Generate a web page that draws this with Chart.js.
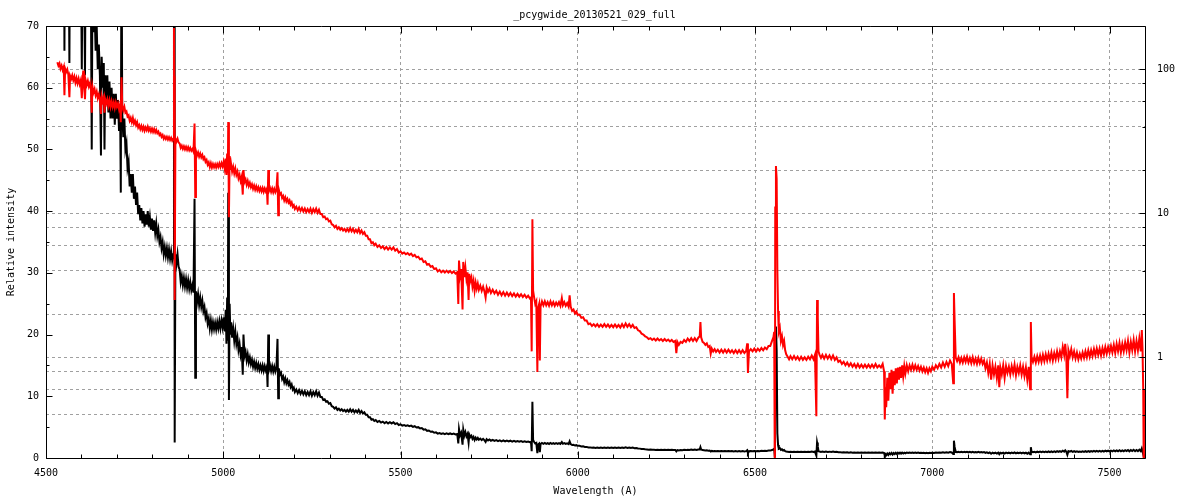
<!DOCTYPE html>
<html>
<head>
<meta charset="utf-8">
<script src="https://cdn.jsdelivr.net/npm/chart.js@4.4.1/dist/chart.umd.min.js"></script>
<style>
  html, body { margin: 0; padding: 0; background: #ffffff; }
  #wrap { width: 1200px; height: 500px; }
</style>
</head>
<body>
<div id="wrap"><canvas id="c" width="1200" height="500"></canvas></div>
<script>
// ---- data ----
const chartTitle = '_pcygwide_20130521_029_full';
const xTitle = 'Wavelength (A)';
const yTitle = 'Relative intensity';

const wavelength = [
4532,4535,4538,4541,4544,4547,4550,4552,4554,4557,
4560,4563,4566,4568,4571,4574,4577,4580,4583,4586,
4589,4592,4595,4598,4601,4603,4605,4607,4610,4612,
4615,4618,4621,4624,4627,4629,4631,4634,4637,4640,
4643,4646,4649,4652,4655,4657,4660,4663,4665,4667,
4670,4673,4676,4679,4682,4685,4688,4691,4694,4697,
4700,4703,4706,4709,4711,4713,4715,4718,4721,4724,
4727,4730,4733,4736,4739,4742,4745,4748,4751,4754,
4757,4760,4763,4766,4769,4772,4775,4778,4781,4784,
4787,4790,4793,4796,4799,4802,4805,4808,4811,4814,
4817,4820,4823,4826,4829,4832,4835,4838,4841,4844,
4847,4850,4853,4856,4859,4861,4862,4863,4865,4868,
4871,4874,4877,4880,4883,4886,4889,4892,4895,4898,
4901,4904,4907,4910,4913,4916,4919,4921,4923,4926,
4929,4932,4935,4938,4941,4944,4947,4950,4953,4956,
4959,4962,4965,4968,4971,4974,4977,4980,4983,4986,
4989,4992,4995,4998,5001,5004,5007,5009,5011,5013,
5014,5016,5018,5020,5022,5025,5028,5031,5034,5037,
5040,5043,5046,5049,5052,5055,5057,5060,5063,5066,
5069,5072,5075,5078,5081,5084,5087,5090,5093,5096,
5099,5102,5105,5108,5111,5114,5117,5120,5123,5125,
5127,5129,5132,5135,5138,5141,5144,5147,5150,5153,
5155,5157,5160,5163,5166,5169,5172,5175,5178,5181,
5184,5187,5190,5193,5196,5199,5202,5206,5210,5214,
5218,5222,5226,5230,5234,5238,5242,5246,5250,5254,
5258,5262,5266,5270,5274,5278,5282,5286,5290,5294,
5298,5302,5306,5310,5314,5318,5322,5326,5330,5334,
5338,5342,5346,5350,5354,5358,5362,5366,5370,5374,
5378,5382,5386,5390,5394,5398,5402,5406,5410,5414,
5418,5422,5426,5430,5435,5440,5445,5450,5455,5460,
5465,5470,5475,5480,5485,5490,5495,5500,5505,5510,
5515,5520,5525,5530,5535,5540,5545,5550,5555,5560,
5565,5570,5575,5580,5585,5590,5595,5600,5605,5610,
5615,5620,5625,5630,5635,5640,5645,5650,5655,5660,
5663,5665,5668,5671,5675,5677,5680,5683,5686,5689,
5692,5694,5697,5700,5703,5706,5709,5712,5715,5718,
5721,5725,5729,5733,5737,5740,5743,5747,5751,5755,
5760,5765,5770,5775,5780,5785,5790,5795,5800,5805,
5810,5815,5820,5825,5830,5835,5840,5845,5850,5855,
5860,5865,5868,5870,5872,5874,5877,5880,5883,5886,
5888,5891,5893,5895,5899,5903,5907,5911,5915,5919,
5923,5927,5931,5935,5939,5943,5947,5951,5955,5958,
5962,5966,5970,5974,5977,5980,5984,5988,5992,5996,
6000,6005,6010,6015,6020,6025,6030,6035,6040,6045,
6050,6055,6060,6065,6070,6075,6080,6085,6090,6095,
6100,6105,6110,6115,6120,6125,6130,6135,6140,6145,
6150,6155,6160,6165,6170,6175,6180,6185,6190,6195,
6200,6205,6210,6215,6220,6225,6230,6235,6240,6245,
6250,6255,6260,6265,6270,6275,6278,6281,6285,6290,
6295,6300,6305,6310,6315,6320,6325,6330,6335,6340,
6344,6346,6348,6352,6356,6360,6364,6368,6372,6375,
6378,6382,6386,6390,6395,6400,6405,6410,6415,6420,
6425,6430,6435,6440,6445,6450,6455,6460,6465,6470,
6475,6478,6480,6483,6488,6493,6498,6503,6508,6513,
6518,6523,6528,6533,6538,6543,6548,6552,6554,6556,
6557,6559,6561,6563,6565,6567,6570,6573,6576,6579,
6582,6585,6588,6592,6596,6600,6605,6610,6615,6620,
6625,6630,6635,6640,6645,6650,6655,6660,6665,6669,
6673,6675,6677,6679,6682,6686,6690,6695,6700,6705,
6710,6715,6720,6725,6730,6735,6740,6745,6750,6755,
6760,6765,6770,6775,6780,6785,6790,6795,6800,6805,
6810,6815,6820,6825,6830,6835,6840,6845,6850,6855,
6860,6864,6866,6868,6870,6873,6876,6879,6882,6885,
6888,6891,6894,6897,6900,6903,6906,6909,6912,6915,
6918,6921,6924,6928,6932,6936,6940,6944,6948,6952,
6956,6960,6964,6968,6972,6976,6980,6984,6988,6992,
6996,7000,7005,7010,7015,7020,7025,7030,7035,7040,
7045,7050,7055,7059,7061,7063,7066,7070,7074,7078,
7082,7086,7090,7094,7098,7102,7106,7110,7114,7118,
7122,7126,7130,7134,7138,7142,7146,7150,7154,7158,
7162,7166,7170,7174,7178,7182,7186,7189,7192,7196,
7200,7204,7208,7212,7216,7220,7224,7228,7232,7236,
7240,7244,7248,7252,7256,7260,7264,7268,7272,7276,
7278,7280,7284,7288,7292,7296,7300,7304,7308,7312,
7316,7320,7324,7328,7332,7336,7340,7344,7348,7352,
7356,7360,7364,7368,7372,7375,7378,7381,7384,7388,
7392,7396,7400,7404,7408,7412,7416,7420,7424,7428,
7432,7436,7440,7444,7448,7452,7456,7460,7464,7468,
7472,7476,7480,7484,7488,7492,7496,7500,7504,7508,
7512,7516,7520,7524,7528,7532,7536,7540,7544,7548,
7552,7556,7560,7564,7568,7572,7576,7580,7584,7588,
7591,7593,7595,7597
];

const intensity = [
112,106,110,101,106,99,104,66,101,96,
100,92,64,90,86,91,84,89,81,87,
80,86,79,84,63,82,98,80,62,84,
78,83,76,80,72,50,76,69,73,66,
70,63,67,62,49,65,60,64,50,62,
58,62,56,61,55,60,55,59,54,59,
55,58,53,57,43,88,56,52,55,50,
51,47,48,44,46,43,46,42,44,41,
43,39.5,41,38.5,40.5,38,40,37.5,39.5,37.8,
40,37.5,39,37,38.8,36.8,38.5,36.5,38,36,
37,35,35.8,34,35,33,34.2,32.8,34,32.5,
33.8,32.3,33.5,32,33,194,90,2.5,33,31.5,
33,31,30.5,28.5,29.5,28,29.2,27.8,29,27.6,
28.8,27.4,28.5,27.2,28,26.8,42,13,27,25.2,
26.5,24.8,26,24.5,25.5,23.8,24.5,22.8,23.5,21.8,
22.6,21,22.3,20.8,22,20.9,21.9,20.8,22,21,
22.2,21,22.3,21.2,22.8,20.5,24,18.5,26,19,
43,9.4,25,20,22,19.5,21,19,20.5,18.5,
19.5,17.5,18.5,16.8,18,13.5,20,16.5,17.2,15.8,
16.8,15.5,16.3,15.2,15.9,14.8,15.6,14.6,15.4,14.5,
15.2,14.3,15,14.2,15,14.1,14.9,14.2,14.8,11.5,
20,14.3,15,14.1,14.9,14,14.8,14,14.6,19.3,
9.7,14.5,13.5,13.8,12.8,13.2,12.3,12.9,12.1,12.6,
11.9,12.3,11.5,11.9,11.1,11.4,10.7,11.1,10.5,11,
10.4,10.9,10.3,10.8,10.2,10.7,10.2,10.8,10.1,10.7,
10.2,10.8,10.1,10.6,9.9,9.9,9.4,9.5,9.1,9.2,
8.8,8.9,8.4,8.3,8.0,8.2,7.8,8.0,7.7,7.9,
7.6,7.8,7.5,7.8,7.5,7.9,7.5,7.8,7.4,7.7,
7.4,7.8,7.3,7.6,7.2,7.4,7.0,7.0,6.6,6.6,
6.2,6.3,6.0,6.15,5.85,6.0,5.75,5.9,5.65,5.85,
5.6,5.8,5.6,5.8,5.5,5.65,5.35,5.45,5.25,5.35,
5.2,5.3,5.15,5.25,5.05,5.15,4.95,5.0,4.8,4.85,
4.6,4.65,4.4,4.45,4.25,4.3,4.1,4.15,3.95,4.05,
3.9,4.0,3.88,4.0,3.88,3.98,3.85,3.95,3.82,3.9,
2.35,4.7,3.7,4.1,2.15,4.6,3.6,4.2,3.5,3.9,
2.5,3.8,3.4,3.6,3.1,3.4,2.9,3.3,3.0,3.25,
2.95,3.15,2.9,3.1,2.85,2.6,3.05,2.85,3.0,2.8,
2.95,2.78,2.9,2.72,2.86,2.7,2.84,2.68,2.82,2.68,
2.8,2.66,2.78,2.64,2.76,2.64,2.74,2.62,2.72,2.6,
2.68,2.56,2.6,1.1,9.1,2.9,2.6,2.35,2.45,0.79,
2.2,2.35,0.95,2.25,2.45,2.3,2.45,2.3,2.42,2.28,
2.45,2.3,2.42,2.28,2.4,2.3,2.42,2.28,2.58,2.3,
2.42,2.28,2.38,2.25,2.7,2.25,2.1,2.15,2.02,2.08,
1.97,1.98,1.88,1.9,1.8,1.8,1.7,1.72,1.65,1.7,
1.64,1.7,1.63,1.69,1.63,1.7,1.63,1.69,1.62,1.68,
1.62,1.69,1.62,1.68,1.61,1.7,1.62,1.72,1.63,1.7,
1.62,1.68,1.6,1.62,1.54,1.52,1.46,1.44,1.4,1.38,
1.34,1.36,1.32,1.35,1.31,1.35,1.31,1.34,1.3,1.34,
1.3,1.33,1.29,1.32,1.28,1.3,1.07,1.28,1.22,1.28,
1.26,1.32,1.28,1.35,1.3,1.36,1.3,1.36,1.3,1.37,
1.4,1.76,1.38,1.28,1.26,1.22,1.25,1.18,1.2,1.06,
1.15,1.1,1.14,1.09,1.13,1.08,1.13,1.08,1.13,1.08,
1.13,1.08,1.12,1.07,1.12,1.07,1.12,1.07,1.12,1.07,
1.11,1.25,0.78,1.1,1.14,1.1,1.15,1.1,1.15,1.11,
1.16,1.12,1.17,1.14,1.2,1.2,1.3,1.38,1.5,0.12,
11,21.3,17.4,4,2.1,1.5,1.6,1.3,1.4,1.22,
1.3,1.12,1.05,1.01,0.97,1.02,0.97,1.02,0.97,1.01,
0.96,1.01,0.96,1.0,0.96,1.01,0.97,1.03,0.97,1.04,
0.39,2.5,1.9,1.1,1.04,0.99,1.04,0.98,1.04,0.98,
1.03,0.97,1.03,0.96,1.0,0.93,0.95,0.9,0.93,0.88,
0.92,0.87,0.91,0.86,0.9,0.85,0.9,0.85,0.89,0.85,
0.89,0.85,0.89,0.85,0.89,0.85,0.9,0.85,0.88,0.85,
0.9,0.8,0.37,0.62,0.45,0.72,0.5,0.78,0.6,0.82,
0.56,0.8,0.64,0.84,0.66,0.85,0.7,0.86,0.72,0.88,
0.74,0.87,0.77,0.88,0.8,0.88,0.82,0.89,0.82,0.88,
0.82,0.87,0.81,0.86,0.8,0.85,0.79,0.84,0.78,0.84,
0.8,0.86,0.82,0.88,0.84,0.9,0.85,0.92,0.86,0.93,
0.87,0.95,0.9,0.66,2.8,1.8,1.0,0.94,1.0,0.92,
0.99,0.92,1.0,0.93,1.01,0.92,0.99,0.91,1.0,0.91,
0.98,0.9,0.99,0.91,0.98,0.9,0.95,0.84,0.92,0.78,
0.9,0.7,0.88,0.76,0.86,0.72,0.88,0.62,0.85,0.76,
0.88,0.72,0.87,0.78,0.86,0.76,0.87,0.78,0.89,0.75,
0.86,0.78,0.88,0.76,0.86,0.74,0.85,0.7,0.86,0.6,
1.76,1.0,0.93,1.01,0.92,1.02,0.93,1.03,0.93,1.04,
0.94,1.05,0.95,1.06,0.96,1.08,0.95,1.07,0.97,1.1,
0.98,1.1,1.0,1.18,1.04,1.24,1.02,0.52,1.12,1.02,
1.14,1.0,1.1,0.98,1.08,0.97,1.06,0.98,1.08,0.99,
1.1,1.0,1.12,1.01,1.12,1.02,1.14,1.03,1.15,1.04,
1.15,1.03,1.16,1.05,1.18,1.06,1.18,1.08,1.2,1.08,
1.22,1.07,1.24,1.1,1.26,1.08,1.24,1.1,1.27,1.12,
1.3,1.08,1.28,1.12,1.32,1.1,1.3,1.12,1.35,1.1,
1.55,1.15,0.6,0.1
];

// tick values
const xMajorTicks = [4500,5000,5500,6000,6500,7000,7500];
const xMinorTicks = [4600,4700,4800,4900,5100,5200,5300,5400,5600,5700,5800,5900,6100,6200,6300,6400,6600,6700,6800,6900,7100,7200,7300,7400,7600];
const yMajorTicks = [0,10,20,30,40,50,60,70];
const yMinorTicks = [5,15,25,35,45,55,65];
const y2MajorTicks = [1,10,100];
const y2MinorTicks = [0.4,0.6,0.8,2,4,6,8,20,40,60,80];
const y2GridTicks = [0.2,0.4,0.6,0.8,1,2,4,6,8,10,20,40,60,80,100,200];

if (wavelength.length !== intensity.length) console.warn('length mismatch', wavelength.length, intensity.length);

const FONT = 'DejaVu Sans Mono';
const points = wavelength.map((w, i) => ({ x: w, y: intensity[i] }));

const framePlugin = {
  id: 'frame',
  afterDraw(chart) {
    const { ctx, chartArea: a, scales } = chart;
    const L = Math.round(a.left) + 0.5, R = Math.round(a.right) + 0.5;
    const T = Math.round(a.top) + 0.5, B = Math.round(a.bottom) + 0.5;
    ctx.save();
    ctx.strokeStyle = '#000';
    ctx.lineWidth = 1;
    ctx.setLineDash([]);
    ctx.beginPath();
    ctx.rect(L, T, R - L, B - T);
    const xt = (v, len) => {
      const px = Math.round(scales.x.getPixelForValue(v)) + 0.5;
      ctx.moveTo(px, B); ctx.lineTo(px, B - len);
      ctx.moveTo(px, T); ctx.lineTo(px, T + len);
    };
    xMajorTicks.forEach(v => xt(v, 7));
    xMinorTicks.forEach(v => xt(v, 4));
    const yt = (v, len) => {
      const py = Math.round(scales.y.getPixelForValue(v)) + 0.5;
      ctx.moveTo(L, py); ctx.lineTo(L + len, py);
    };
    yMajorTicks.forEach(v => yt(v, 6));
    yMinorTicks.forEach(v => yt(v, 3));
    const y2t = (v, len) => {
      const py = Math.round(scales.y2.getPixelForValue(v)) + 0.5;
      ctx.moveTo(R, py); ctx.lineTo(R - len, py);
    };
    y2MajorTicks.forEach(v => y2t(v, 6));
    y2MinorTicks.forEach(v => y2t(v, 3));
    ctx.stroke();
    ctx.fillStyle = '#000';
    ctx.font = '10px "' + FONT + '"';
    ctx.textAlign = 'center';
    ctx.textBaseline = 'middle';
    ctx.fillText(chartTitle, (a.left + a.right) / 2 - 1, 15);
    ctx.restore();
  }
};

const gridColor = '#a0a0a0';

new Chart(document.getElementById('c'), {
  type: 'line',
  data: {
    datasets: [
      {
        label: 'log',
        data: points,
        yAxisID: 'y2',
        borderColor: '#ff0000',
        borderWidth: 2,
        pointRadius: 0,
        tension: 0,
        fill: false
      },
      {
        label: 'linear',
        data: points,
        yAxisID: 'y',
        borderColor: '#000000',
        borderWidth: 2,
        pointRadius: 0,
        tension: 0,
        fill: false
      }
    ]
  },
  options: {
    responsive: false,
    animation: false,
    devicePixelRatio: 1,
    layout: { padding: { top: 26, left: 0, right: 0, bottom: 0 } },
    plugins: { legend: { display: false }, tooltip: { enabled: false }, title: { display: false } },
    scales: {
      x: {
        type: 'linear',
        position: 'bottom',
        min: 4500,
        max: 7600,
        afterBuildTicks: s => { s.ticks = xMajorTicks.map(v => ({ value: v })); },
        afterFit: s => { s.height = 42; },
        ticks: { autoSkip: false, maxRotation: 0, padding: 9, color: '#000', font: { family: FONT, size: 10 }, callback: v => String(v) },
        grid: { color: gridColor, lineWidth: 1, drawTicks: false },
        border: { display: false, dash: [3, 3] },
        title: { display: true, text: xTitle, color: '#000', font: { family: FONT, size: 10 }, padding: { top: 0, bottom: 3 } }
      },
      y: {
        type: 'linear',
        position: 'left',
        min: 0,
        max: 70,
        afterBuildTicks: s => { s.ticks = yMajorTicks.map(v => ({ value: v })); },
        afterFit: s => { s.width = 46; },
        ticks: { autoSkip: false, padding: 7, color: '#000', font: { family: FONT, size: 10 } },
        grid: { display: false, drawTicks: false },
        border: { display: false },
        title: { display: true, text: yTitle, color: '#000', font: { family: FONT, size: 10 }, padding: { top: 5, bottom: 0 } }
      },
      y2: {
        type: 'logarithmic',
        position: 'right',
        min: 0.2,
        max: 200,
        afterBuildTicks: s => { s.ticks = y2GridTicks.map(v => ({ value: v })); },
        afterFit: s => { s.width = 55; },
        ticks: { autoSkip: false, padding: 12, color: '#000', font: { family: FONT, size: 10 },
                 callback: v => (y2MajorTicks.includes(v) ? String(v) : '') },
        grid: { color: gridColor, lineWidth: 1, drawTicks: false },
        border: { display: false, dash: [3, 3] }
      }
    }
  },
  plugins: [framePlugin]
});
</script>
</body>
</html>
